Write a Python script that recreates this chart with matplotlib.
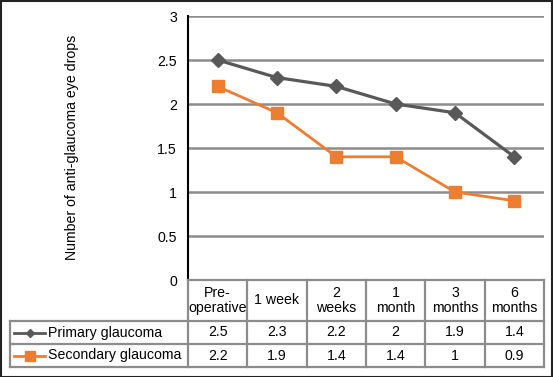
import matplotlib
matplotlib.use("Agg")
import matplotlib.pyplot as plt
from matplotlib.lines import Line2D
from matplotlib.patches import Rectangle

categories = ["Pre-\noperative", "1 week", "2\nweeks", "1\nmonth", "3\nmonths", "6\nmonths"]
primary = [2.5, 2.3, 2.2, 2.0, 1.9, 1.4]
secondary = [2.2, 1.9, 1.4, 1.4, 1.0, 0.9]
primary_labels = ["2.5", "2.3", "2.2", "2", "1.9", "1.4"]
secondary_labels = ["2.2", "1.9", "1.4", "1.4", "1", "0.9"]
series_names = ["Primary glaucoma", "Secondary glaucoma"]
yticks = [0, 0.5, 1, 1.5, 2, 2.5, 3]
ylabel = "Number of anti-glaucoma eye drops"

W, H = 553, 377
FS = 10.2
plt.rcParams['font.family'] = ['Liberation Sans', 'DejaVu Sans']
fig = plt.figure(figsize=(W / 100, H / 100), dpi=100)

def fx(px):
    return px / W

def fy(py):
    return 1 - py / H

x0, x1 = 188, 544
y_top, y_bot = 16, 280
ax = fig.add_axes([fx(x0), fy(y_bot), fx(x1) - fx(x0), fy(y_top) - fy(y_bot)])
ax.set_xlim(-0.5, len(categories) - 0.5)
ax.set_ylim(0, 3)
ax.set_yticks(yticks)
ax.set_yticklabels([f"{t:g}" for t in yticks], fontsize=FS)
ax.set_xticks([])
ax.tick_params(axis='y', length=0, pad=8)
for s in ['top', 'right', 'bottom']:
    ax.spines[s].set_visible(False)
ax.spines['left'].set_color('black')
ax.spines['left'].set_linewidth(1.5)
ax.grid(axis='y', color='#8c8c8c', linewidth=1.8)
ax.set_axisbelow(True)

gray = '#595959'
orange = '#ED7D31'
xs = list(range(len(categories)))
ax.plot(xs, primary, color=gray, linewidth=2.3, marker='D', markersize=7, clip_on=False)
ax.plot(xs, secondary, color=orange, linewidth=2.0, marker='s', markersize=8.5, clip_on=False)

fig.text(fx(72), fy(147), ylabel, rotation=90, ha='center', va='center', fontsize=FS)

# data table
tc = '#8c8c8c'
lw = 1.6
rows_y = [280, 321, 344, 367]
col_w = (x1 - x0) / len(categories)
col_x = [x0 + i * col_w for i in range(len(categories) + 1)]

def hline(y, xa, xb):
    fig.add_artist(Line2D([fx(xa), fx(xb)], [fy(y), fy(y)], color=tc, lw=lw))

def vline(x, ya, yb):
    fig.add_artist(Line2D([fx(x), fx(x)], [fy(ya), fy(yb)], color=tc, lw=lw))

hline(rows_y[0], x0, x1)
for y in rows_y[1:]:
    hline(y, 10, x1)
for x in col_x[1:]:
    vline(x, rows_y[0], rows_y[3])
vline(x0, rows_y[0], rows_y[3])
vline(10, rows_y[1], rows_y[3])

for i, c in enumerate(categories):
    cx = (col_x[i] + col_x[i + 1]) / 2
    fig.text(fx(cx), fy((rows_y[0] + rows_y[1]) / 2), c, ha='center', va='center',
             fontsize=FS, linespacing=1.15)
    fig.text(fx(cx), fy((rows_y[1] + rows_y[2]) / 2), primary_labels[i], ha='center',
             va='center', fontsize=FS)
    fig.text(fx(cx), fy((rows_y[2] + rows_y[3]) / 2), secondary_labels[i], ha='center',
             va='center', fontsize=FS)

# legend keys in table
for r, (name, col, mk, ms) in enumerate([(series_names[0], gray, 'D', 4.5),
                                         (series_names[1], orange, 's', 6.5)]):
    yc = (rows_y[r + 1] + rows_y[r + 2]) / 2
    fig.add_artist(Line2D([fx(14), fx(45)], [fy(yc), fy(yc)], color=col, lw=2))
    fig.add_artist(Line2D([fx(29.5)], [fy(yc)], color=col, marker=mk, markersize=ms, lw=0))
    fig.text(fx(48), fy(yc), name, ha='left', va='center', fontsize=FS)

# outer frame
fig.add_artist(Rectangle((fx(0.5), fy(376.5)), fx(552) - fx(1), fy(0.5) - fy(376.5),
                         fill=False, edgecolor='#222222', lw=1.5))

fig.savefig("out.png", dpi=100)
